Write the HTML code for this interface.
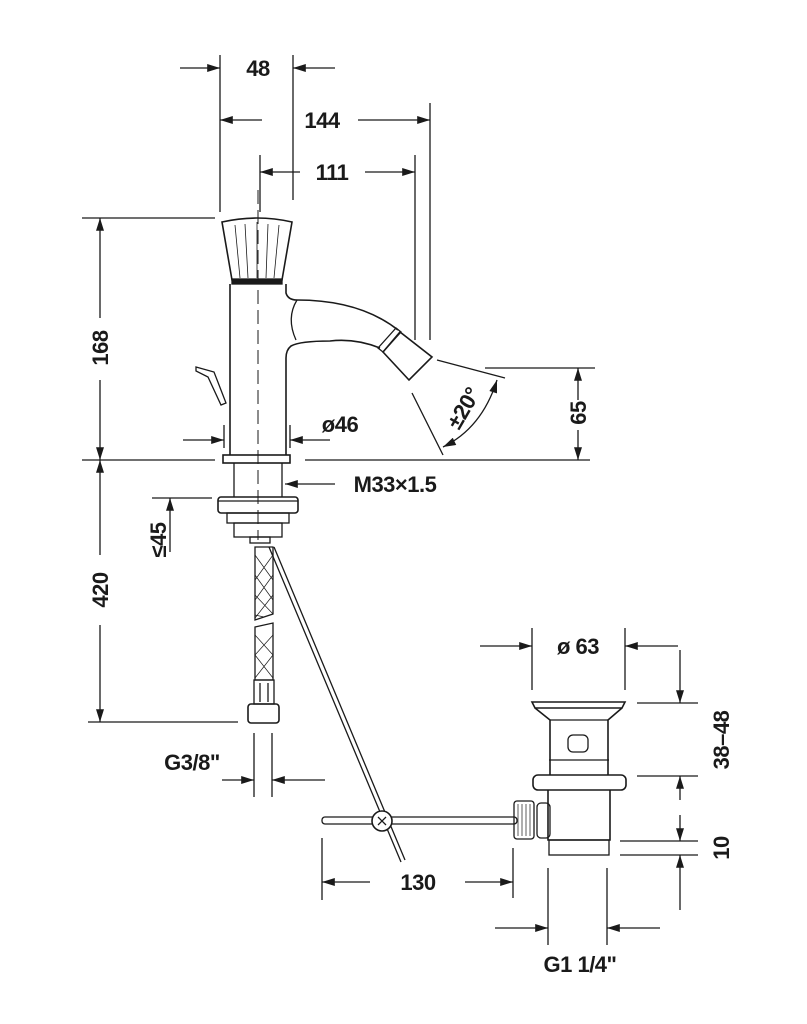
<!DOCTYPE html>
<html><head><meta charset="utf-8"><style>
html,body{margin:0;padding:0;background:#fff;}
svg{display:block}
text{font-family:"Liberation Sans",sans-serif;font-weight:bold;font-size:22px;fill:#1a1a1a;letter-spacing:-0.5px}
</style></head><body>
<svg width="807" height="1024" viewBox="0 0 807 1024" xmlns="http://www.w3.org/2000/svg">
<defs>
<marker id="b" viewBox="0 0 16 10" refX="16" refY="5" markerWidth="16" markerHeight="8" orient="auto-start-reverse" markerUnits="userSpaceOnUse"><path d="M0,0 L16,5 L0,10 z" fill="#1a1a1a"/></marker>
</defs>
<g stroke="#1a1a1a" stroke-width="1.3" fill="none">
<line x1="220" y1="55" x2="220" y2="212"/>
<line x1="293" y1="55" x2="293" y2="200"/>
<line x1="430" y1="103" x2="430" y2="340"/>
<line x1="415" y1="155" x2="415" y2="340"/>
<line x1="260" y1="155" x2="260" y2="212"/>
<line x1="180" y1="68" x2="220" y2="68" marker-end="url(#b)"/>
<line x1="335" y1="68" x2="293" y2="68" marker-end="url(#b)"/>
<line x1="262" y1="120" x2="220" y2="120" marker-end="url(#b)"/>
<line x1="358" y1="120" x2="430" y2="120" marker-end="url(#b)"/>
<line x1="300" y1="172" x2="260" y2="172" marker-end="url(#b)"/>
<line x1="365" y1="172" x2="415" y2="172" marker-end="url(#b)"/>
<line x1="82" y1="218" x2="215" y2="218"/>
<line x1="82" y1="460" x2="215" y2="460"/>
<line x1="305" y1="460" x2="590" y2="460"/>
<line x1="100" y1="318" x2="100" y2="218" marker-end="url(#b)"/>
<line x1="100" y1="380" x2="100" y2="460" marker-end="url(#b)"/>
<line x1="100" y1="555" x2="100" y2="460" marker-end="url(#b)"/>
<line x1="100" y1="625" x2="100" y2="722" marker-end="url(#b)"/>
<line x1="88" y1="722" x2="238" y2="722"/>
<line x1="152" y1="498" x2="212" y2="498"/>
<line x1="170" y1="552" x2="170" y2="498" marker-end="url(#b)"/>
<line x1="485" y1="368" x2="595" y2="368"/>
<line x1="578" y1="400" x2="578" y2="368" marker-end="url(#b)"/>
<line x1="578" y1="430" x2="578" y2="460" marker-end="url(#b)"/>
<line x1="224" y1="425" x2="224" y2="448"/>
<line x1="290" y1="425" x2="290" y2="448"/>
<line x1="183" y1="440" x2="224" y2="440" marker-end="url(#b)"/>
<line x1="330" y1="440" x2="290" y2="440" marker-end="url(#b)"/>
<line x1="335" y1="484" x2="285" y2="484" marker-end="url(#b)"/>
<line x1="258" y1="190" x2="258" y2="540" stroke-dasharray="14,6" stroke-width="1"/>
<!-- handle -->
<path d="M222,222 Q257,214 292,222 L282,280 L232,280 Z" stroke-width="1.6"/>
<path d="M235,225 L240,278 M245,224 L248,278 M257,222 L257,278 M268,224 L266,278 M279,225 L274,278" stroke-width="0.8"/>
<rect x="232" y="279" width="50" height="5" fill="#1a1a1a"/>
<!-- body -->
<line x1="230" y1="284" x2="230" y2="455" stroke-width="1.6"/>
<path d="M286,284 L286,293 Q288,300 297,300 Q360,300 398,330" stroke-width="1.6"/>
<path d="M380,348 Q355,338 330,341 Q300,341 291,346 Q286,350 286,358 L286,455" stroke-width="1.6"/>
<path d="M297,300 Q286,318 296,340" stroke-width="1.3"/>
<path d="M378,348 L396,328 L401,332 L383,352 Z"/>
<path d="M383,352 L400,332 L432,357 L409,380 Z" stroke-width="1.6"/>
<!-- lever -->
<path d="M196,367 L214,372 L226,403 L221,405 L208,377 L196,371 Z" stroke-width="1.3"/>
<!-- base -->
<rect x="223" y="455" width="67" height="8" stroke-width="1.6"/>
<line x1="234" y1="463" x2="234" y2="497"/><line x1="282" y1="463" x2="282" y2="497"/>
<rect x="218" y="497" width="80" height="16" rx="3" stroke-width="1.6"/>
<line x1="218" y1="501" x2="298" y2="501"/>
<rect x="227" y="513" width="62" height="10"/>
<rect x="234" y="523" width="48" height="14"/>
<rect x="250" y="537" width="20" height="6"/>
<!-- hose -->
<path d="M255,547 L273,547 L273,614 L255,620 Z"/>
<path d="M255,627 L273,623 L273,680 L255,680 Z"/>
<path d="M255,555 L273,580 M255,575 L273,600 M255,595 L273,614 M255,615 L264,617 M273,555 L255,580 M273,575 L255,600 M273,595 L255,618 M255,635 L273,655 M255,655 L273,678 M273,635 L255,655 M273,655 L255,678" stroke-width="0.7"/>
<rect x="254" y="680" width="20" height="24"/>
<line x1="260" y1="683" x2="260" y2="702"/><line x1="268" y1="683" x2="268" y2="702"/>
<rect x="248" y="704" width="31" height="19" rx="3" stroke-width="1.6"/>
<line x1="254" y1="733" x2="254" y2="797"/>
<line x1="272" y1="733" x2="272" y2="797"/>
<line x1="222" y1="780" x2="254" y2="780" marker-end="url(#b)"/>
<line x1="325" y1="780" x2="272" y2="780" marker-end="url(#b)"/>
<!-- rod -->
<line x1="269" y1="547" x2="401" y2="862" stroke-width="1.3"/>
<line x1="274" y1="547" x2="405" y2="860" stroke-width="1.3"/>
<rect x="322" y="817" width="195" height="7" rx="3"/>
<circle cx="382" cy="821" r="10" fill="#fff" stroke-width="1.6"/>
<path d="M378,817 L386,825 M386,817 L378,825"/>
<!-- drain -->
<path d="M532,702 L625,702 L622,708 L535,708 Z" stroke-width="1.6"/>
<path d="M535,708 L550,720 L550,775 M622,708 L608,720 L608,775" stroke-width="1.6"/>
<line x1="550" y1="720" x2="608" y2="720"/>
<rect x="568" y="735" width="20" height="17" rx="5"/>
<line x1="549" y1="760" x2="609" y2="760"/>
<rect x="533" y="775" width="93" height="15" rx="5" stroke-width="1.6"/>
<path d="M548,790 L548,840 L610,840 L610,790" stroke-width="1.6"/>
<rect x="549" y="840" width="60" height="15"/>
<rect x="537" y="803" width="13" height="35" rx="4"/>
<rect x="514" y="801" width="20" height="38" rx="3"/>
<path d="M518,804 L518,836 M522,804 L522,836 M526,804 L526,836 M530,804 L530,836" stroke-width="0.7"/>
<line x1="532" y1="628" x2="532" y2="690"/>
<line x1="625" y1="628" x2="625" y2="690"/>
<line x1="480" y1="646" x2="532" y2="646" marker-end="url(#b)"/>
<line x1="678" y1="646" x2="625" y2="646" marker-end="url(#b)"/>
<line x1="637" y1="703" x2="698" y2="703"/>
<line x1="637" y1="776" x2="698" y2="776"/>
<line x1="620" y1="841" x2="698" y2="841"/>
<line x1="620" y1="855" x2="698" y2="855"/>
<line x1="680" y1="650" x2="680" y2="703" marker-end="url(#b)"/>
<line x1="680" y1="800" x2="680" y2="776" marker-end="url(#b)"/>
<line x1="680" y1="815" x2="680" y2="841" marker-end="url(#b)"/>
<line x1="680" y1="910" x2="680" y2="855" marker-end="url(#b)"/>
<line x1="322" y1="838" x2="322" y2="900"/>
<line x1="513" y1="848" x2="513" y2="898"/>
<line x1="370" y1="882" x2="322" y2="882" marker-end="url(#b)"/>
<line x1="465" y1="882" x2="513" y2="882" marker-end="url(#b)"/>
<line x1="548" y1="868" x2="548" y2="945"/>
<line x1="607" y1="868" x2="607" y2="945"/>
<line x1="495" y1="928" x2="548" y2="928" marker-end="url(#b)"/>
<line x1="660" y1="928" x2="607" y2="928" marker-end="url(#b)"/>
<!-- angle -->
<line x1="437" y1="360" x2="505" y2="378"/>
<line x1="412" y1="393" x2="443" y2="455"/>
<path d="M443,447 Q482,428 497,380" marker-start="url(#b)" marker-end="url(#b)"/>
</g>
<text x="258" y="76" text-anchor="middle">48</text>
<text x="322" y="128" text-anchor="middle">144</text>
<text x="332" y="180" text-anchor="middle">111</text>
<text x="340" y="432" text-anchor="middle">ø46</text>
<text x="395" y="492" text-anchor="middle">M33×1.5</text>
<text x="192" y="770" text-anchor="middle">G3/8"</text>
<text x="578" y="654" text-anchor="middle">ø 63</text>
<text x="418" y="890" text-anchor="middle">130</text>
<text x="580" y="972" text-anchor="middle">G1 1/4"</text>
<text transform="translate(108,348) rotate(-90)" text-anchor="middle">168</text>
<text transform="translate(108,590) rotate(-90)" text-anchor="middle">420</text>
<text transform="translate(166,540) rotate(-90)" text-anchor="middle">≤45</text>
<text transform="translate(586,413) rotate(-90)" text-anchor="middle">65</text>
<text transform="translate(729,740) rotate(-90)" text-anchor="middle">38–48</text>
<text transform="translate(729,848) rotate(-90)" text-anchor="middle">10</text>
<text transform="translate(470,412) rotate(-60)" text-anchor="middle">±20°</text>
</svg>
</body></html>
